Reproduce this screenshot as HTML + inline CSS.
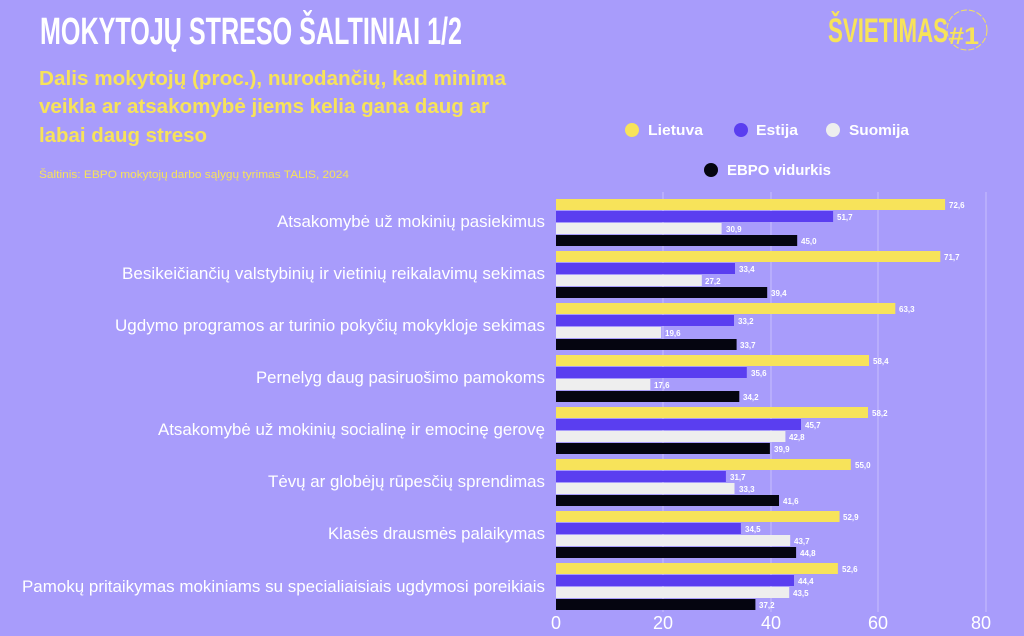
<!DOCTYPE html>
<html><head><meta charset="utf-8"><style>
html,body{margin:0;padding:0;background:#a89cfb;}
svg{display:block;font-family:"Liberation Sans",sans-serif;}
</style></head><body>
<svg width="1024" height="636" viewBox="0 0 1024 636" xmlns="http://www.w3.org/2000/svg">
<rect width="1024" height="636" fill="#a89cfb"/>
<text x="40" y="44" font-size="38" font-weight="bold" fill="#fff" textLength="422" lengthAdjust="spacingAndGlyphs" font-family="Liberation Sans Narrow, Liberation Sans, sans-serif">MOKYTOJŲ STRESO ŠALTINIAI 1/2</text>
<text x="828" y="42" font-size="34" font-weight="bold" fill="#f7e35a" textLength="120" lengthAdjust="spacingAndGlyphs">ŠVIETIMAS</text>
<circle cx="967" cy="30" r="20" fill="none" stroke="#f7e35a" stroke-width="1" stroke-dasharray="6 2"/>
<text x="949" y="44" font-size="24" font-weight="bold" fill="#f7e35a" textLength="30" lengthAdjust="spacingAndGlyphs">#1</text>
<g font-size="20" font-weight="bold" fill="#f7e35a">
<text x="39" y="85" textLength="467" lengthAdjust="spacingAndGlyphs">Dalis mokytojų (proc.), nurodančių, kad minima</text>
<text x="39" y="113" textLength="450" lengthAdjust="spacingAndGlyphs">veikla ar atsakomybė jiems kelia gana daug ar</text>
<text x="39" y="142" textLength="168" lengthAdjust="spacingAndGlyphs">labai daug streso</text>
</g>
<text x="39" y="178" font-size="11" fill="#f7e35a" textLength="310" lengthAdjust="spacingAndGlyphs">Šaltinis: EBPO mokytojų darbo sąlygų tyrimas TALIS, 2024</text>
<g font-size="15" font-weight="bold" fill="#fff">
<circle cx="632" cy="130" r="7" fill="#f7e35a"/><text x="648" y="135" textLength="55" lengthAdjust="spacingAndGlyphs">Lietuva</text>
<circle cx="741" cy="130" r="7" fill="#5a3ef0"/><text x="756" y="135" textLength="42" lengthAdjust="spacingAndGlyphs">Estija</text>
<circle cx="833" cy="130" r="7" fill="#eeeeee"/><text x="849" y="135" textLength="60" lengthAdjust="spacingAndGlyphs">Suomija</text>
<circle cx="711" cy="170" r="7" fill="#050510"/><text x="727" y="175" textLength="104" lengthAdjust="spacingAndGlyphs">EBPO vidurkis</text>
</g>
<g stroke="#c2b9fc" stroke-width="1.2">
<line x1="663" y1="192" x2="663" y2="612"/><line x1="771" y1="192" x2="771" y2="612"/>
<line x1="878" y1="192" x2="878" y2="612"/><line x1="986" y1="192" x2="986" y2="612"/>
</g>
<g font-size="18" fill="#fff" text-anchor="middle">
<text x="556" y="629">0</text><text x="663" y="629">20</text><text x="771" y="629">40</text><text x="878" y="629">60</text><text x="981" y="629">80</text>
</g>
<g font-size="17" fill="#fff" text-anchor="end">
<text x="545" y="227" textLength="268" lengthAdjust="spacingAndGlyphs">Atsakomybė už mokinių pasiekimus</text>
<text x="545" y="279" textLength="423" lengthAdjust="spacingAndGlyphs">Besikeičiančių valstybinių ir vietinių reikalavimų sekimas</text>
<text x="545" y="331" textLength="430" lengthAdjust="spacingAndGlyphs">Ugdymo programos ar turinio pokyčių mokykloje sekimas</text>
<text x="545" y="383" textLength="289" lengthAdjust="spacingAndGlyphs">Pernelyg daug pasiruošimo pamokoms</text>
<text x="545" y="435" textLength="387" lengthAdjust="spacingAndGlyphs">Atsakomybė už mokinių socialinę ir emocinę gerovę</text>
<text x="545" y="487" textLength="277" lengthAdjust="spacingAndGlyphs">Tėvų ar globėjų rūpesčių sprendimas</text>
<text x="545" y="539" textLength="217" lengthAdjust="spacingAndGlyphs">Klasės drausmės palaikymas</text>
<text x="545" y="592" textLength="523" lengthAdjust="spacingAndGlyphs">Pamokų pritaikymas mokiniams su specialiaisiais ugdymosi poreikiais</text>
</g>
<g font-size="8" font-weight="bold" fill="#fff">
<rect x="556" y="199" width="389.1" height="11" fill="#f7e35a"/><text x="949" y="208">72,6</text>
<rect x="556" y="211" width="277.1" height="11" fill="#5a3ef0"/><text x="837" y="220">51,7</text>
<rect x="556" y="223" width="165.6" height="11" fill="#eeeeee"/><text x="726" y="232">30,9</text>
<rect x="556" y="235" width="241.2" height="11" fill="#050510"/><text x="801" y="244">45,0</text>

<rect x="556" y="251" width="384.3" height="11" fill="#f7e35a"/><text x="944" y="260">71,7</text>
<rect x="556" y="263" width="179.0" height="11" fill="#5a3ef0"/><text x="739" y="272">33,4</text>
<rect x="556" y="275" width="145.8" height="11" fill="#eeeeee"/><text x="705" y="284">27,2</text>
<rect x="556" y="287" width="211.2" height="11" fill="#050510"/><text x="771" y="296">39,4</text>

<rect x="556" y="303" width="339.3" height="11" fill="#f7e35a"/><text x="899" y="312">63,3</text>
<rect x="556" y="315" width="178.0" height="11" fill="#5a3ef0"/><text x="738" y="324">33,2</text>
<rect x="556" y="327" width="105.1" height="11" fill="#eeeeee"/><text x="665" y="336">19,6</text>
<rect x="556" y="339" width="180.6" height="11" fill="#050510"/><text x="740" y="348">33,7</text>

<rect x="556" y="355" width="313.0" height="11" fill="#f7e35a"/><text x="873" y="364">58,4</text>
<rect x="556" y="367" width="190.8" height="11" fill="#5a3ef0"/><text x="751" y="376">35,6</text>
<rect x="556" y="379" width="94.3" height="11" fill="#eeeeee"/><text x="654" y="388">17,6</text>
<rect x="556" y="391" width="183.3" height="11" fill="#050510"/><text x="743" y="400">34,2</text>

<rect x="556" y="407" width="312.0" height="11" fill="#f7e35a"/><text x="872" y="416">58,2</text>
<rect x="556" y="419" width="245.0" height="11" fill="#5a3ef0"/><text x="805" y="428">45,7</text>
<rect x="556" y="431" width="229.4" height="11" fill="#eeeeee"/><text x="789" y="440">42,8</text>
<rect x="556" y="443" width="213.9" height="11" fill="#050510"/><text x="774" y="452">39,9</text>

<rect x="556" y="459" width="294.8" height="11" fill="#f7e35a"/><text x="855" y="468">55,0</text>
<rect x="556" y="471" width="169.9" height="11" fill="#5a3ef0"/><text x="730" y="480">31,7</text>
<rect x="556" y="483" width="178.5" height="11" fill="#eeeeee"/><text x="739" y="492">33,3</text>
<rect x="556" y="495" width="223.0" height="11" fill="#050510"/><text x="783" y="504">41,6</text>

<rect x="556" y="511" width="283.5" height="11" fill="#f7e35a"/><text x="843" y="520">52,9</text>
<rect x="556" y="523" width="184.9" height="11" fill="#5a3ef0"/><text x="745" y="532">34,5</text>
<rect x="556" y="535" width="234.2" height="11" fill="#eeeeee"/><text x="794" y="544">43,7</text>
<rect x="556" y="547" width="240.1" height="11" fill="#050510"/><text x="800" y="556">44,8</text>

<rect x="556" y="563" width="281.9" height="11" fill="#f7e35a"/><text x="842" y="572">52,6</text>
<rect x="556" y="575" width="238.0" height="11" fill="#5a3ef0"/><text x="798" y="584">44,4</text>
<rect x="556" y="587" width="233.2" height="11" fill="#eeeeee"/><text x="793" y="596">43,5</text>
<rect x="556" y="599" width="199.4" height="11" fill="#050510"/><text x="759" y="608">37,2</text>
</g>
</svg>
</body></html>
